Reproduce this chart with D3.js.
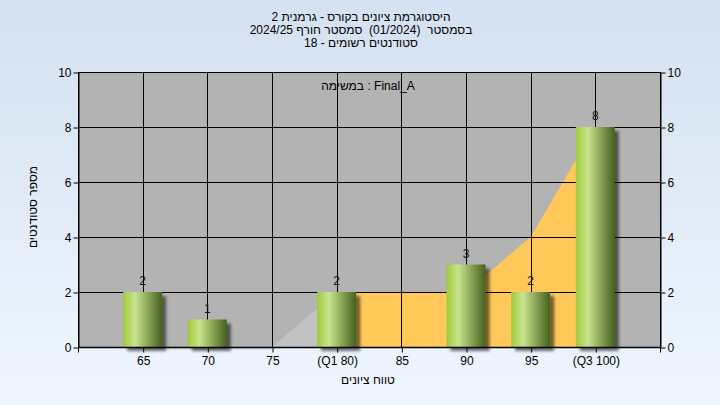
<!DOCTYPE html>
<html><head><meta charset="utf-8">
<script src="https://cdn.jsdelivr.net/npm/d3@7"></script>
<style>html,body{margin:0;padding:0;background:#fff;}svg{display:block;}text{white-space:pre;}</style>
</head><body>
<svg id="c" width="720" height="405"></svg>
<script>
const titleLines = ["היסטוגרמת ציונים בקורס - גרמנית 2", "בסמסטר  (01/2024)  סמסטר חורף 2024/25", "סטודנטים רשומים - 18"];
const legendText = "במשימה : Final_A";
const xTitle = "טווח ציונים";
const yTitle = "מספר סטודנטים";
const grades = [65, 70, 75, 80, 85, 90, 95, 100];
const gradeLabels = ["65", "70", "75", "(Q1 80)", "85", "90", "95", "(Q3 100)"];
const counts = [2, 1, 0, 2, 0, 3, 2, 8];
const areaValues = [0, 0, 0, 2, 2, 2, 4, 8];
const yTicks = [0, 2, 4, 6, 8, 10];

const W = 720, H = 405;
const m = {l: 78, r: 60, t: 72, b: 58};
const svg = d3.select("#c");
const defs = svg.append("defs");

const bg = defs.append("linearGradient").attr("id", "bg").attr("x1", 0).attr("y1", 0).attr("x2", 0).attr("y2", 1);
bg.append("stop").attr("offset", "0%").attr("stop-color", "#d4e1f1");
bg.append("stop").attr("offset", "100%").attr("stop-color", "#eff6fe");

const bar = defs.append("linearGradient").attr("id", "bar").attr("x1", 0).attr("y1", 0).attr("x2", 1).attr("y2", 0);
bar.append("stop").attr("offset", "0%").attr("stop-color", "#9fca3c");
bar.append("stop").attr("offset", "30%").attr("stop-color", "#c9e38e");
bar.append("stop").attr("offset", "55%").attr("stop-color", "#9ab565");
bar.append("stop").attr("offset", "100%").attr("stop-color", "#46601c");

const sh = defs.append("filter").attr("id", "sh").attr("x", "-30%").attr("y", "-30%").attr("width", "160%").attr("height", "160%");
sh.append("feGaussianBlur").attr("in", "SourceAlpha").attr("stdDeviation", 1.8).attr("result", "b");
sh.append("feOffset").attr("in", "b").attr("dx", 4).attr("dy", 4).attr("result", "o");
sh.append("feComponentTransfer").attr("in", "o").attr("result", "o2")
  .append("feFuncA").attr("type", "linear").attr("slope", 0.55);
const mg = sh.append("feMerge");
mg.append("feMergeNode").attr("in", "o2");
mg.append("feMergeNode").attr("in", "SourceGraphic");

svg.append("rect").attr("width", W).attr("height", H).attr("fill", "url(#bg)");

const x = d3.scaleLinear().domain([60, 105]).range([m.l, W - m.r]);
const y = d3.scaleLinear().domain([0, 10]).range([H - m.b, m.t]);
const font = "'Liberation Sans', Arial, sans-serif";

// plot background
svg.append("rect").attr("x", x(60)).attr("y", y(10)).attr("width", x(105) - x(60)).attr("height", y(0) - y(10)).attr("fill", "#b3b3b3");

// area series
const pts = grades.map((g, i) => ({g, v: areaValues[i]}));
const area = d3.area().x(d => x(d.g)).y0(y(0)).y1(d => y(d.v));
svg.append("path").datum(pts.slice(0, 4)).attr("d", area).attr("fill", "#c2c2c2");
svg.append("path").datum(pts.slice(3)).attr("d", area).attr("fill", "#ffc858");
svg.append("line").attr("x1", x(grades[0])).attr("x2", x(grades[2])).attr("y1", y(0) + 2).attr("y2", y(0) + 2)
  .attr("stroke", "#c8ccd2").attr("stroke-width", 1);

// gridlines
const grid = svg.append("g").attr("stroke", "#000").attr("stroke-width", 1);
grades.forEach(g => grid.append("line").attr("x1", Math.round(x(g)) + 0.5).attr("x2", Math.round(x(g)) + 0.5).attr("y1", y(10)).attr("y2", y(0)));
yTicks.forEach(t => grid.append("line").attr("x1", x(60)).attr("x2", x(105)).attr("y1", Math.round(y(t)) + 0.5).attr("y2", Math.round(y(t)) + 0.5));
grid.append("line").attr("x1", Math.round(x(60)) + 0.5).attr("x2", Math.round(x(60)) + 0.5).attr("y1", y(10)).attr("y2", y(0));
grid.append("line").attr("x1", Math.round(x(105)) + 0.5).attr("x2", Math.round(x(105)) + 0.5).attr("y1", y(10)).attr("y2", y(0));

// bars
const bw = 39;
const bd = grades.map((g, i) => ({g, v: counts[i]})).filter(d => d.v > 0);
svg.append("g").selectAll("rect").data(bd).join("rect")
  .attr("x", d => x(d.g) - bw / 2).attr("width", bw)
  .attr("y", d => y(d.v)).attr("height", d => y(0) - y(d.v))
  .attr("fill", "url(#bar)").attr("filter", "url(#sh)");
svg.append("g").selectAll("text").data(bd).join("text")
  .attr("x", d => x(d.g)).attr("y", d => y(d.v) - 7)
  .attr("text-anchor", "middle").attr("font-family", font).attr("font-size", 12).attr("fill", "#111")
  .text(d => d.v);

// axes
const xAxis = d3.axisBottom(x).tickValues(grades).tickFormat((d, i) => gradeLabels[i]).tickSize(5).tickSizeOuter(5);
const gx = svg.append("g").attr("transform", `translate(0.5,${Math.round(y(0)) + 0.5})`).call(xAxis);
const yL = d3.axisLeft(y).tickValues(yTicks).tickSize(5).tickSizeOuter(0);
const gyl = svg.append("g").attr("transform", `translate(${Math.round(x(60)) + 0.5},0.5)`).call(yL);
const yR = d3.axisRight(y).tickValues(yTicks).tickSize(5).tickSizeOuter(0);
const gyr = svg.append("g").attr("transform", `translate(${Math.round(x(105)) + 0.5},0.5)`).call(yR);
[gx, gyl, gyr].forEach(g => {
  g.select(".domain").attr("stroke", "#000");
  g.selectAll(".tick line").attr("stroke", "#000");
  g.selectAll("text").attr("fill", "#000").attr("font-family", font).attr("font-size", 12);
});
gx.select(".domain").attr("d", `M${x(60)},0H${x(105)}`).attr("stroke-width", 1.5);
gx.append("line").attr("x1", x(60)).attr("x2", x(60)).attr("y1", 0).attr("y2", 5).attr("stroke", "#000");
gx.append("line").attr("x1", x(105)).attr("x2", x(105)).attr("y1", 0).attr("y2", 5).attr("stroke", "#000");
gx.selectAll(".tick text").attr("dy", "0.95em").attr("y", 6);
gyl.selectAll(".tick text").attr("x", -7);
gyr.selectAll(".tick text").attr("x", 7);

// titles
svg.append("g").selectAll("text").data(titleLines).join("text")
  .attr("x", 361).attr("y", (d, i) => 21 + i * 13)
  .attr("text-anchor", "middle").attr("direction", "rtl")
  .attr("font-family", font).attr("font-size", 12).attr("fill", "#000").text(d => d);

svg.append("text").attr("x", 368).attr("y", 90).attr("text-anchor", "middle")
  .attr("font-family", font).attr("font-size", 12).attr("fill", "#000").text(legendText);

svg.append("text").attr("x", 368).attr("y", 384).attr("text-anchor", "middle").attr("direction", "rtl")
  .attr("font-family", font).attr("font-size", 12).attr("fill", "#000").text(xTitle);

svg.append("text").attr("transform", "translate(37,207) rotate(-90)").attr("text-anchor", "middle").attr("direction", "rtl")
  .attr("font-family", font).attr("font-size", 12).attr("fill", "#000").text(yTitle);
</script>
</body></html>
